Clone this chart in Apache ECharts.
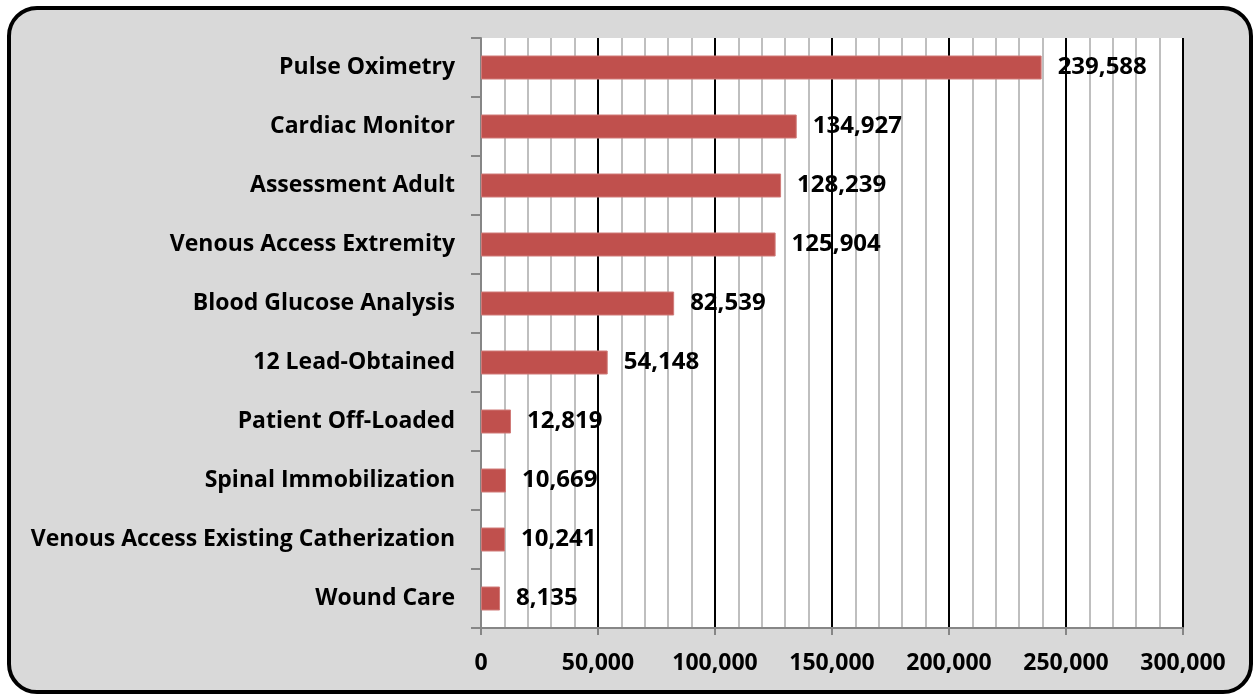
<!DOCTYPE html>
<html lang="en">
  <head>
    <meta charset="UTF-8" />
    <script src="https://cdn.jsdelivr.net/npm/echarts@6/dist/echarts.min.js"></script>
    <title>Procedures</title>
    <style>
      body{margin:0;padding:0;background:#fff;}
      .frame{position:absolute;left:7px;top:6px;width:1238px;height:680px;border:4px solid #000;border-radius:30px;background:#d9d9d9;}
      #main{position:absolute;left:0;top:0;width:1257px;height:696px;}
    </style>
  </head>
  <body>
    <div class="frame"></div>
    <div id="main"></div>
    <script>
      // categories top to bottom
      var categories = [
        'Pulse Oximetry',
        'Cardiac Monitor',
        'Assessment Adult',
        'Venous Access Extremity',
        'Blood Glucose Analysis',
        '12 Lead-Obtained',
        'Patient Off-Loaded',
        'Spinal Immobilization',
        'Venous Access Existing Catherization',
        'Wound Care'
      ];
      var counts = [239588, 134927, 128239, 125904, 82539, 54148, 12819, 10669, 10241, 8135];
      var xTicks = [0, 50000, 100000, 150000, 200000, 250000, 300000];

      var fmt = function (v) { return Number(v).toLocaleString('en-US'); };
      var font = '"Open Sans", "Liberation Sans", sans-serif';

      var myChart = echarts.init(document.getElementById('main'), null, {renderer: 'canvas'});
      var option = {
        backgroundColor: 'transparent',
        animation: false,
        grid: {left: 481, right: 74, top: 38, bottom: 68, containLabel: false,
               show: true, backgroundColor: '#fff', borderWidth: 0},
        xAxis: {
          type: 'value',
          min: xTicks[0],
          max: xTicks[xTicks.length - 1],
          interval: 50000,
          axisLine: {show: true, lineStyle: {color: '#868686', width: 2}},
          axisTick: {show: true, length: 7, lineStyle: {color: '#868686', width: 2}},
          axisLabel: {formatter: fmt, color: '#000', fontFamily: font, fontWeight: 'bold', fontSize: 23, margin: 24},
          splitLine: {show: true, lineStyle: {color: '#000', width: 2}},
          minorTick: {show: false, splitNumber: 5},
          minorSplitLine: {show: true, lineStyle: {color: '#bfbfbf', width: 2}}
        },
        yAxis: {
          type: 'category',
          data: categories,
          inverse: true,
          axisLine: {show: true, lineStyle: {color: '#868686', width: 2}},
          axisTick: {show: true, length: 10, lineStyle: {color: '#868686', width: 2}},
          axisLabel: {color: '#000', fontFamily: font, fontWeight: 'bold', fontSize: 23, margin: 26, padding: [4, 0, 0, 0]}
        },
        series: [{
          type: 'bar',
          data: counts,
          barWidth: 24,
          itemStyle: {color: '#c0504d', borderColor: '#d07a78', borderWidth: 1},
          label: {
            show: true,
            position: 'right',
            distance: 16,
            formatter: function (p) { return fmt(p.value); },
            color: '#000',
            fontFamily: font,
            fontWeight: 'bold',
            fontSize: 24
          }
        }]
      };
      myChart.setOption(option);
    </script>
  </body>
</html>
